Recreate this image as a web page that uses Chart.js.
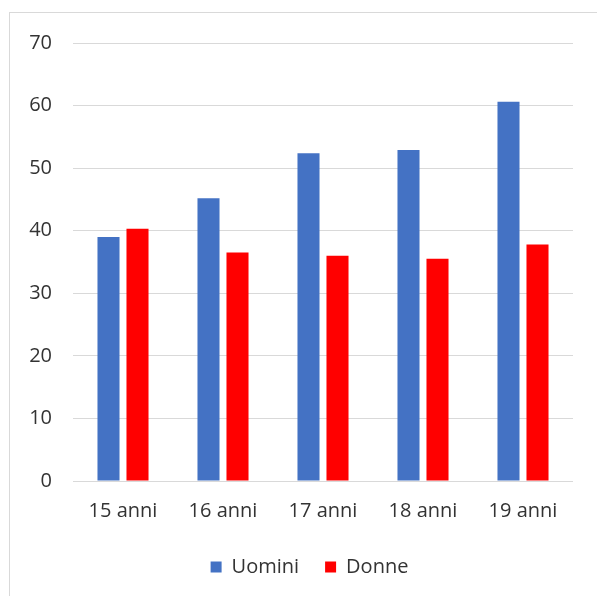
<!DOCTYPE html>
<html>
<head>
<meta charset="utf-8">
<script src="https://cdn.jsdelivr.net/npm/chart.js@4/dist/chart.umd.min.js"></script>
<style>
    html, body { margin: 0; padding: 0; background: #fff; }
    #box { position: absolute; left: 0; top: 0; width: 597px; height: 596px; }
    #cornice { position: absolute; left: 9px; top: 12px; width: 600px; height: 600px;
               border-left: 1px solid #d9d9d9; border-top: 1px solid #d9d9d9; }
</style>
</head>
<body>
<div id="box">
    <div id="cornice"></div>
    <canvas id="grafico" width="597" height="596"></canvas>
</div>
<script>
let categorie = ["15 anni", "16 anni", "17 anni", "18 anni", "19 anni"];
let uomini = [39.0, 45.2, 52.4, 52.9, 60.6];
let donne = [40.3, 36.5, 36.0, 35.5, 37.8];
let nomiSerie = ["Uomini", "Donne"];
let coloriSerie = ["#4472C4", "#FF0000"];

let fontBase = { family: "'Open Sans', sans-serif", size: 20 };

// sposta la legenda un po' a destra, come nell'originale
const spostaLegenda = {
    id: "spostaLegenda",
    afterLayout(chart) {
        chart.legend.left += 18;
        chart.legend.right += 18;
    }
};

new Chart("grafico", {
    type: "bar",
    data: {
        labels: categorie,
        datasets: [{
            label: nomiSerie[0],
            backgroundColor: coloriSerie[0],
            data: uomini
        }, {
            label: nomiSerie[1],
            backgroundColor: coloriSerie[1],
            data: donne
        }]
    },
    options: {
        responsive: false,
        animation: false,
        devicePixelRatio: 1,
        categoryPercentage: 0.58,
        barPercentage: 0.76,
        layout: {
            padding: { left: 10, right: 24, top: 43, bottom: 9 }
        },
        scales: {
            x: {
                grid: { display: false, drawTicks: false },
                border: { display: false },
                ticks: { color: "#333333", font: fontBase, padding: 18 },
                afterFit: (asse) => { asse.height = 50; }
            },
            y: {
                min: 0,
                max: 70,
                grid: { color: "#d9d9d9", drawTicks: false },
                border: { display: false },
                ticks: { stepSize: 10, color: "#333333", font: fontBase, padding: 21 },
                afterFit: (asse) => { asse.width = 63; }
            }
        },
        plugins: {
            legend: {
                position: "bottom",
                labels: {
                    boxWidth: 11,
                    boxHeight: 11,
                    padding: 26,
                    color: "#333333",
                    font: fontBase
                }
            },
            tooltip: { enabled: false }
        }
    },
    plugins: [spostaLegenda]
});
</script>
</body>
</html>
